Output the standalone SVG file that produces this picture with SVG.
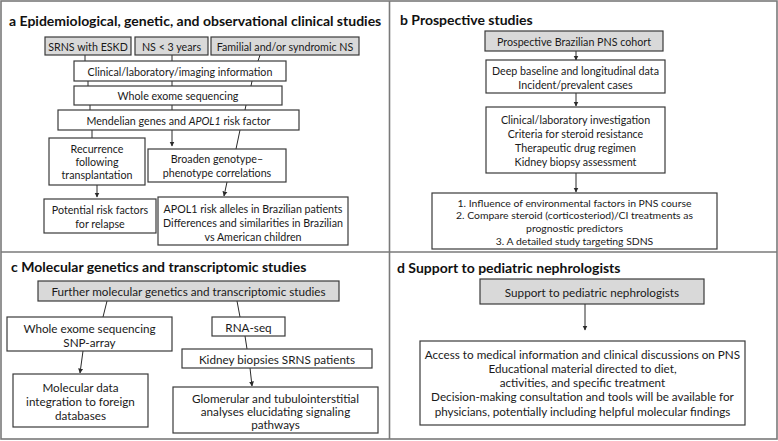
<svg xmlns="http://www.w3.org/2000/svg" width="778" height="441" viewBox="0 0 778 441">
<style>
.bg{fill:#ffffff}
.frame{fill:none;stroke:#7a7a7a;stroke-width:1.6}
.box{fill:#ffffff;stroke:#3a3a3a;stroke-width:1.2}
.gbox{fill:#d9d9d9;stroke:#3a3a3a;stroke-width:1.2}
.t{font-family:Lato,"Liberation Sans",sans-serif;font-size:10.7px;fill:#1a1a1a;text-anchor:middle;dominant-baseline:central}
.t2{font-family:Lato,"Liberation Sans",sans-serif;font-size:11.7px;fill:#1a1a1a;text-anchor:middle;dominant-baseline:central}
.ts{font-size:10.4px}
.title{font-family:Lato,"Liberation Sans",sans-serif;font-size:14px;font-weight:bold;fill:#111111;dominant-baseline:central}
.c line{stroke:#2a2a2a;stroke-width:1}
.c .a{marker-end:url(#ah)}
</style>
<defs>
<marker id="ah" viewBox="0 0 10 10" refX="9" refY="5" markerWidth="5" markerHeight="6" orient="auto" markerUnits="userSpaceOnUse">
<path d="M0,0 L10,5 L0,10 z" fill="#2a2a2a"/>
</marker>
</defs>
<rect class="bg" x="0" y="0" width="778" height="441"/>
<g id="frame">
<rect class="frame" x="1" y="1" width="776" height="438"/>
<line class="frame" x1="389.5" y1="1" x2="389.5" y2="439"/>
<line class="frame" x1="1" y1="252" x2="777" y2="252"/>
</g>
<g id="titles">
<text class="title" x="9" y="20">a  Epidemiological, genetic, and observational clinical studies</text>
<text class="title" x="400" y="19">b  Prospective studies</text>
<text class="title" x="11" y="266">c  Molecular genetics and transcriptomic studies</text>
<text class="title" x="397" y="267">d  Support to pediatric nephrologists</text>
</g>
<g class="c" id="connectors">
<line x1="85" y1="55" x2="85" y2="61"/>
<line x1="172" y1="55" x2="172" y2="61"/>
<line x1="260" y1="55" x2="258" y2="61"/>
<line x1="88" y1="81" x2="88" y2="86"/>
<line x1="172" y1="81" x2="172" y2="86"/>
<line x1="252" y1="81" x2="251" y2="86"/>
<line x1="90" y1="105" x2="90" y2="110"/>
<line x1="172" y1="105" x2="172" y2="110"/>
<line x1="246" y1="105" x2="245" y2="110"/>
<line x1="92" y1="130" x2="92" y2="138"/>
<line class="a" x1="172" y1="130" x2="172" y2="146"/>
<line x1="240" y1="130" x2="236" y2="149"/>
<line class="a" x1="97" y1="185" x2="97" y2="197"/>
<line class="a" x1="227" y1="182" x2="224" y2="196"/>
<line class="a" x1="576" y1="51" x2="576" y2="60"/>
<line class="a" x1="576" y1="93" x2="576" y2="106"/>
<line class="a" x1="576" y1="173" x2="576" y2="192"/>
<line x1="107" y1="301" x2="103" y2="317"/>
<line class="a" x1="83" y1="351" x2="80" y2="373"/>
<line x1="237" y1="301" x2="240" y2="317"/>
<line x1="245" y1="336" x2="247" y2="349"/>
<line class="a" x1="250" y1="368" x2="252" y2="386"/>
<line class="a" x1="585" y1="304" x2="585" y2="330"/>
</g>
<g id="a-srns"><rect class="gbox" x="45" y="37" width="86" height="18"/><text class="t" x="88" y="46">SRNS with ESKD</text></g>
<g id="a-ns3"><rect class="gbox" x="135" y="37" width="73" height="18"/><text class="t" x="171.5" y="46">NS &lt; 3 years</text></g>
<g id="a-familial"><rect class="gbox" x="211" y="37" width="148" height="18"/><text class="t" x="285" y="46">Familial and/or syndromic NS</text></g>
<g id="a-clinical"><rect class="box" x="74" y="61" width="212" height="20"/><text class="t" x="180" y="71">Clinical/laboratory/imaging information</text></g>
<g id="a-wes"><rect class="box" x="74" y="86" width="208" height="19"/><text class="t" x="178" y="95.5">Whole exome sequencing</text></g>
<g id="a-mendelian"><rect class="box" x="58" y="110" width="241" height="20"/><text class="t" x="178.5" y="120">Mendelian genes and <tspan font-style="italic">APOL1</tspan> risk factor</text></g>
<g id="a-recurrence"><rect class="box" x="49" y="138" width="96" height="47"/><text class="t" x="97" y="148.5">Recurrence</text><text class="t" x="97" y="161.5">following</text><text class="t" x="97" y="174.5">transplantation</text></g>
<g id="a-broaden"><rect class="box" x="148" y="149" width="138" height="33"/><text class="t" x="217" y="158.5">Broaden genotype–</text><text class="t" x="217" y="172">phenotype correlations</text></g>
<g id="a-potential"><rect class="box" x="44" y="199" width="112" height="34"/><text class="t" x="100" y="209.5">Potential risk factors</text><text class="t" x="100" y="223">for relapse</text></g>
<g id="a-apol1"><rect class="box" x="158" y="197" width="190" height="48"/><text class="t" x="253" y="208">APOL1 risk alleles in Brazilian patients</text><text class="t" x="253" y="222">Differences and similarities in Brazilian</text><text class="t" x="253" y="236">vs American children</text></g>
<g id="b-cohort"><rect class="gbox" x="485" y="31" width="178" height="20"/><text class="t" x="574" y="41">Prospective Brazilian PNS cohort</text></g>
<g id="b-deep"><rect class="box" x="486" y="60" width="179" height="33"/><text class="t" x="575.5" y="70">Deep baseline and longitudinal data</text><text class="t" x="575.5" y="84">Incident/prevalent cases</text></g>
<g id="b-clinical"><rect class="box" x="486" y="107" width="179" height="66"/><text class="t" x="575.5" y="119.5">Clinical/laboratory investigation</text><text class="t" x="575.5" y="133.5">Criteria for steroid resistance</text><text class="t" x="575.5" y="147.5">Therapeutic drug regimen</text><text class="t" x="575.5" y="161.5">Kidney biopsy assessment</text></g>
<g id="b-outcomes"><rect class="box" x="432" y="193" width="285" height="56"/><text class="t ts" x="574.5" y="202.5">1. Influence of environmental factors in PNS course</text><text class="t ts" x="574.5" y="215.3">2. Compare steroid (corticosteriod)/CI treatments as</text><text class="t ts" x="574.5" y="228.1">prognostic predictors</text><text class="t ts" x="574.5" y="240.9">3. A detailed study targeting SDNS</text></g>
<g id="c-further"><rect class="gbox" x="38" y="281" width="301" height="20"/><text class="t2" x="188.5" y="291">Further molecular genetics and transcriptomic studies</text></g>
<g id="c-wes"><rect class="box" x="7" y="317" width="165" height="34"/><text class="t2" x="89.5" y="328">Whole exome sequencing</text><text class="t2" x="89.5" y="342">SNP-array</text></g>
<g id="c-molecular"><rect class="box" x="13" y="374" width="135" height="53"/><text class="t2" x="80.5" y="386.5">Molecular data</text><text class="t2" x="80.5" y="400.5">integration to foreign</text><text class="t2" x="80.5" y="414.5">databases</text></g>
<g id="c-rnaseq"><rect class="box" x="212" y="317" width="73" height="19"/><text class="t2" x="248.5" y="326.5">RNA-seq</text></g>
<g id="c-kidney"><rect class="box" x="182" y="349" width="190" height="19"/><text class="t2" x="277" y="358.5">Kidney biopsies SRNS patients</text></g>
<g id="c-glomerular"><rect class="box" x="173" y="387" width="205" height="46"/><text class="t2" x="275.5" y="398">Glomerular and tubulointerstitial</text><text class="t2" x="275.5" y="411">analyses elucidating signaling</text><text class="t2" x="275.5" y="424">pathways</text></g>
<g id="d-support"><rect class="gbox" x="480" y="279" width="224" height="25"/><text class="t2" x="592" y="291.5">Support to pediatric nephrologists</text></g>
<g id="d-access"><rect class="box" x="420" y="341" width="325" height="84"/><text class="t2" x="582.5" y="353.5">Access to medical information and clinical discussions on PNS</text><text class="t2" x="582.5" y="367.5">Educational material directed to diet,</text><text class="t2" x="582.5" y="381.5">activities, and specific treatment</text><text class="t2" x="582.5" y="395.5">Decision-making consultation and tools will be available for</text><text class="t2" x="582.5" y="410.5">physicians, potentially including helpful molecular findings</text></g>
</svg>
